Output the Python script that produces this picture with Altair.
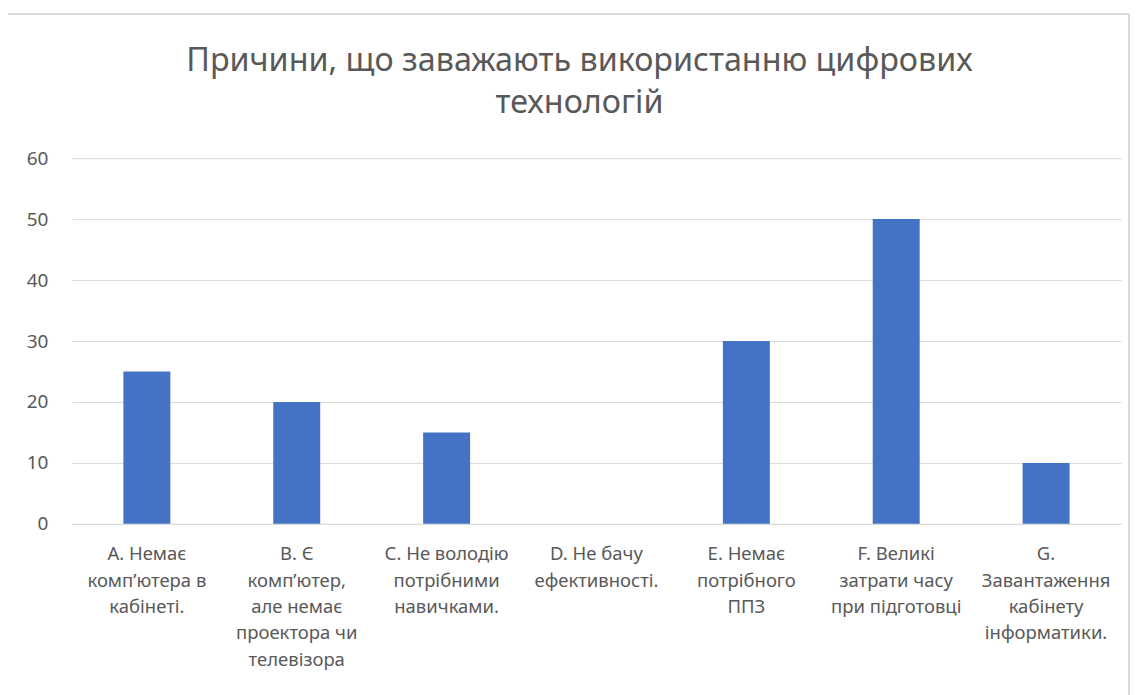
import altair as alt
import pandas as pd

categories = [
    "А. Немає|комп’ютера в|кабінеті.",
    "В. Є|комп’ютер,|але немає|проектора чи|телевізора",
    "С. Не володію|потрібними|навичками.",
    "D. Не бачу|ефективності.",
    "Е. Немає|потрібного|ППЗ",
    "F. Великі|затрати часу|при підготовці",
    "G.|Завантаження|кабінету|інформатики.",
]
values = [25, 20, 15, 0, 30, 50, 10]
y_ticks = [0, 10, 20, 30, 40, 50, 60]
title_lines = ["Причини, що заважають використанню цифрових", "технологій"]

df = pd.DataFrame({"cat": categories, "val": values})

FONT = "Noto Sans"
TXT = "#595959"
GRID = "#D9D9D9"

bars = alt.Chart(df).mark_bar(color="#4472C4", size=47).encode(
    x=alt.X(
        "cat:N",
        sort=None,
        title=None,
        scale=alt.Scale(paddingInner=0, paddingOuter=0),
        axis=alt.Axis(
            labelExpr="split(datum.label, '|')",
            labelAngle=0,
            labelFont=FONT,
            labelFontSize=18.5,
            labelColor=TXT,
            labelLineHeight=26.4,
            labelPadding=21,
            labelLimit=300,
            ticks=False,
            domainColor=GRID,
            domainWidth=1,
            grid=False,
        ),
    ),
    y=alt.Y(
        "val:Q",
        title=None,
        scale=alt.Scale(domain=[0, 60], nice=False),
        axis=alt.Axis(
            values=y_ticks,
            labelFont=FONT,
            labelFontSize=19,
            labelColor=TXT,
            labelPadding=24,
            ticks=False,
            domain=False,
            gridColor=GRID,
            gridWidth=1,
        ),
    ),
)

border = alt.Chart(df).mark_rect(
    fill=None, stroke=GRID, strokeWidth=1, clip=False
).encode(
    x=alt.value(-65), x2=alt.value(1058), y=alt.value(-144), y2=alt.value(700)
)

chart = (
    alt.layer(border, bars)
    .properties(
        width=1050,
        height=366,
        autosize=alt.AutoSizeParams(type="none"),
        padding={"left": 64, "top": 150, "right": 10, "bottom": 180},
        title=alt.TitleParams(
            text=title_lines,
            font=FONT,
            fontSize=32.3,
            fontWeight="normal",
            color=TXT,
            anchor="middle",
            dx=-17,
            lineHeight=42,
            offset=-106,
        ),
    )
    .configure_view(stroke=None)
)

chart.save("out.html", embed_options={"renderer": "svg", "actions": False})
